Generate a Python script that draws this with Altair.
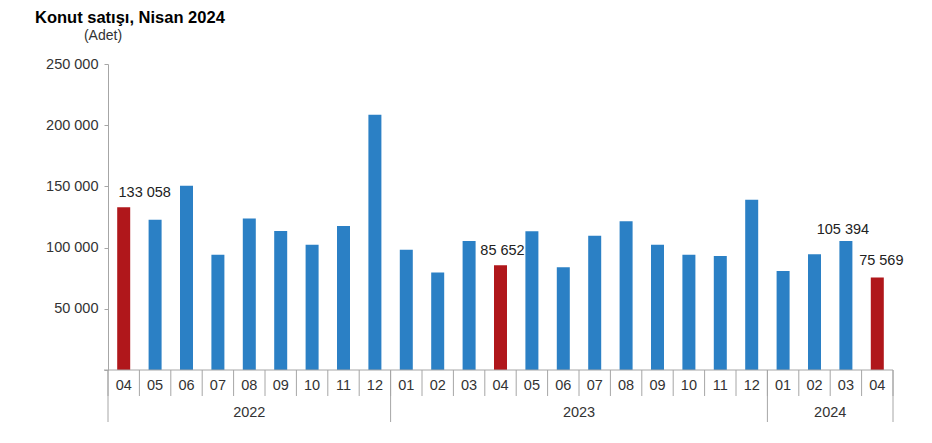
import altair as alt
import pandas as pd

months = ["04", "05", "06", "07", "08", "09", "10", "11", "12",
          "01", "02", "03", "04", "05", "06", "07", "08", "09", "10", "11", "12",
          "01", "02", "03", "04"]
years = ["2022"] * 9 + ["2023"] * 12 + ["2024"] * 4
sales = [133058, 122850, 150509, 94236, 123811, 113524, 102352, 117640, 208526,
         98178, 79720, 105402, 85652, 113276, 84012, 109613, 121587, 102311, 94172, 93094, 139018,
         80858, 94595, 105394, 75569]
highlight = [True] + [False] * 11 + [True] + [False] * 11 + [True]
labelled = [0, 12, 23, 24]
year_names = ["2022", "2023", "2024"]
year_bounds = [0, 9, 21, 25]
title_text = ["Konut satışı, Nisan 2024"]
unit_text = ["(Adet)"]

W, H = 785, 306
FONT = "Liberation Sans"
FS = 14.5
BLUE, RED = "#2b80c5", "#b0171b"
GRAY = "#a6a6a6"

n = len(sales)
df = pd.DataFrame({
    "i": list(range(n)),
    "c": [i + 0.5 for i in range(n)],
    "month": months,
    "year": years,
    "sales": sales,
    "hl": ["y" if h else "n" for h in highlight],
})
df["label"] = df["sales"].map(lambda v: f"{v:,}".replace(",", " "))

xs = alt.Scale(domain=[0, n], nice=False, zero=False, padding=0)
ys = alt.Scale(domain=[0, 250000], nice=False, padding=0)

base = alt.Chart(df)

bars = base.mark_bar(size=13).encode(
    x=alt.X("c:Q", scale=xs, axis=None),
    y=alt.Y("sales:Q", scale=ys, title=None,
            axis=alt.Axis(values=[0, 50000, 100000, 150000, 200000, 250000],
                          labelExpr="datum.value == 0 ? '' : replace(format(datum.value, ','), ',', ' ')",
                          grid=False, domainColor=GRAY, tickColor=GRAY, tickSize=4,
                          labelFont=FONT, labelFontSize=FS, labelColor="#333333",
                          labelPadding=6, domainWidth=1)),
    color=alt.Color("hl:N", scale=alt.Scale(domain=["n", "y"], range=[BLUE, RED]), legend=None),
)

offsets = {0: (21, -7), 12: (2, -7), 23: (-3, -4), 24: (4, -10)}
label_layers = []
for idx in labelled:
    dx, dy = offsets[idx]
    label_layers.append(
        alt.Chart(df[df["i"] == idx]).mark_text(
            font=FONT, fontSize=FS, color="#222222", baseline="bottom", dx=dx, dy=dy
        ).encode(x=alt.X("c:Q", scale=xs), y=alt.Y("sales:Q", scale=ys), text="label:N")
    )

one = pd.DataFrame({"title": title_text, "unit": unit_text})

xaxis_line = alt.Chart(one).mark_rule(color=GRAY).encode(
    x=alt.value(-4), x2=alt.value(W), y=alt.value(H)
)

month_text = base.mark_text(font=FONT, fontSize=FS, color="#333333", baseline="middle").encode(
    x=alt.X("c:Q", scale=xs), y=alt.value(H + 16), text="month:N"
)

bounds_df = pd.DataFrame({"b": list(range(n + 1))})
month_sep = alt.Chart(bounds_df).mark_rule(color=GRAY).encode(
    x=alt.X("b:Q", scale=xs), y=alt.value(H), y2=alt.value(H + 26)
)

ydf = pd.DataFrame({"b": year_bounds})
year_sep = alt.Chart(ydf).mark_rule(color=GRAY).encode(
    x=alt.X("b:Q", scale=xs), y=alt.value(H), y2=alt.value(H + 52)
)

ymid = pd.DataFrame({
    "year": year_names,
    "m": [(year_bounds[k] + year_bounds[k + 1]) / 2 for k in range(len(year_names))],
})
year_text = alt.Chart(ymid).mark_text(font=FONT, fontSize=FS, color="#333333", baseline="middle").encode(
    x=alt.X("m:Q", scale=xs), y=alt.value(H + 43), text="year:N"
)

title = alt.Chart(one).mark_text(font=FONT, fontSize=16.5, fontWeight="bold", color="#000000",
                                 align="left", baseline="alphabetic").encode(
    x=alt.value(-73), y=alt.value(-41), text="title:N"
)
unit = alt.Chart(one).mark_text(font=FONT, fontSize=14, color="#333333",
                                align="center", baseline="middle").encode(
    x=alt.value(-5), y=alt.value(-28), text="unit:N"
)

chart = alt.layer(
    bars, *label_layers, xaxis_line, month_sep, year_sep, month_text, year_text, title, unit
).properties(
    width=W, height=H,
    autosize=alt.AutoSizeParams(type="none"),
    padding={"left": 100, "top": 56, "right": 30, "bottom": 60},
).configure_view(stroke=None).configure_axis(domainColor=GRAY)

chart.save("out.html", embed_options={"renderer": "svg", "actions": False})
